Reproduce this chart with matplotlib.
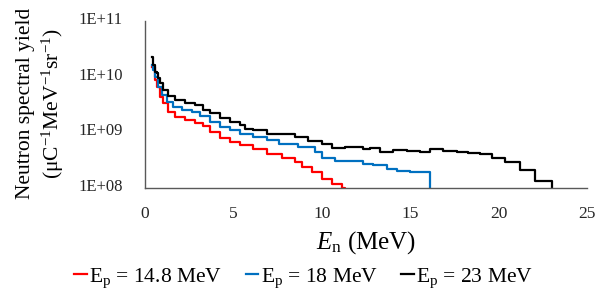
import numpy as np
import matplotlib
matplotlib.use("Agg")
import matplotlib.pyplot as plt
import matplotlib.transforms as mtransforms
from matplotlib.ticker import FixedLocator, FuncFormatter

# フォント設定 (Times 風)
plt.rcParams['font.family'] = ['Liberation Serif', 'DejaVu Serif']
plt.rcParams['mathtext.fontset'] = 'custom'
plt.rcParams['mathtext.rm'] = 'Liberation Serif'
plt.rcParams['mathtext.it'] = 'Liberation Serif:italic'

# データ
en_148 = [0.38, 0.57, 0.66, 0.85, 1.04, 1.32, 1.70, 2.26, 2.83, 3.30, 3.68, 4.24,
          4.81, 5.37, 6.13, 6.88, 7.73, 8.48, 8.86, 9.43, 9.99, 10.56, 11.12, 11.3]
y_148 = [1.51e10, 8.7e9, 6.6e9, 4.4e9, 3.3e9, 2.34e9, 1.91e9, 1.66e9, 1.48e9, 1.29e9,
         1.02e9, 7.9e8, 6.6e8, 5.9e8, 5.0e8, 4.0e8, 3.4e8, 2.95e8, 2.4e8, 1.95e8,
         1.48e8, 1.2e8, 1.02e8, 1e7]

en_18 = [0.38, 0.47, 0.57, 0.75, 0.94, 1.23, 1.60, 2.07, 2.64, 3.11, 3.68, 4.24, 4.81,
         5.37, 6.13, 6.88, 7.60, 8.67, 9.62, 9.99, 10.75, 11.6, 12.35, 12.91,
         13.67, 14.24, 14.99, 16.1]
y_18 = [1.62e10, 1.32e10, 1.0e10, 6.6e9, 4.7e9, 3.5e9, 2.9e9, 2.5e9, 2.34e9, 1.95e9,
        1.55e9, 1.26e9, 1.10e9, 9.5e8, 8.3e8, 7.2e8, 6.3e8, 5.5e8, 4.5e8,
        3.4e8, 3.1e8, 3.0e8, 2.75e8, 2.57e8, 2.19e8, 2.04e8, 1.95e8, 1e7]

en_23 = [0.38, 0.47, 0.57, 0.66, 0.75, 0.85, 1.04, 1.32, 1.70, 2.26, 2.83, 3.30, 3.68,
         4.24, 4.81, 5.37, 5.66, 6.13, 6.88, 7.92, 8.48, 9.24, 9.99, 10.56, 11.31,
         12.35, 12.73, 13.29, 14.04, 14.80, 15.55, 16.12, 16.87, 17.63, 18.29, 18.95,
         19.61, 20.36, 21.21, 22.06, 23.0]
y_23 = [2.29e10, 1.62e10, 1.23e10, 1.15e10, 9.3e9, 7.6e9, 5.75e9, 4.47e9, 3.8e9, 3.39e9,
        3.09e9, 2.51e9, 2.19e9, 1.78e9, 1.55e9, 1.35e9, 1.17e9, 1.10e9, 9.5e8, 9.3e8,
        8.1e8, 7.1e8, 6.2e8, 5.2e8, 5.4e8, 5.1e8, 5.2e8, 4.5e8, 4.9e8, 4.7e8, 4.5e8,
        5.0e8, 4.7e8, 4.5e8, 4.2e8, 4.1e8, 3.4e8, 2.9e8, 2.1e8, 1.35e8, 1e7]

labels = [r'E$_\mathrm{p}$ = 14.8 MeV', r'E$_\mathrm{p}$ = 18 MeV', r'E$_\mathrm{p}$ = 23 MeV']
colors = ['#FF0000', '#0070C0', '#000000']
x_ticks = [0, 5, 10, 15, 20, 25]
y_ticks = [1e8, 1e9, 1e10, 1e11]

fig = plt.figure(figsize=(6.07, 2.95), dpi=100)
ax = fig.add_axes([145 / 607, 1 - 188 / 295, 442 / 607, 167 / 295])

for xs, ys, c, lab in zip([en_148, en_18, en_23], [y_148, y_18, y_23], colors, labels):
    ax.plot(xs, ys, drawstyle='steps-post', color=c, lw=1.6, label=lab)

ax.set_yscale('log')
ax.set_xlim(0, 25)
ax.set_ylim(1e8, 1e11)
ax.xaxis.set_major_locator(FixedLocator(x_ticks))
ax.yaxis.set_major_locator(FixedLocator(y_ticks))
ax.yaxis.set_minor_locator(FixedLocator([]))
ax.yaxis.set_major_formatter(FuncFormatter(lambda v, p: f"1E+{int(round(np.log10(v))):02d}"))

for s in ['top', 'right']:
    ax.spines[s].set_visible(False)
for s in ['left', 'bottom']:
    ax.spines[s].set_color('#595959')
    ax.spines[s].set_linewidth(1.0)

ax.tick_params(axis='x', length=0, pad=13, labelsize=12.5, colors='#262626')
ax.tick_params(axis='y', which='both', length=0, pad=16, labelsize=12, colors='#262626')
# Excel 風にラベルを少し上にずらす
off = mtransforms.ScaledTranslation(0, 3 / 100, fig.dpi_scale_trans)
for t in ax.get_yticklabels():
    t.set_transform(t.get_transform() + off)

fig.text(366 / 607, 1 - 243 / 295, r'$E_\mathrm{n}$ (MeV)', ha='center', va='center', fontsize=18)
fig.text(41 / 607, 1 - 103 / 295,
         'Neutron spectral yield\n(μC$^{-1}$MeV$^{-1}$sr$^{-1}$)',
         rotation=90, ha='center', va='center', fontsize=15.5, linespacing=1.25)

fig.legend(loc='center', bbox_to_anchor=(0.5, 1 - 278 / 295), ncol=3, frameon=False,
           fontsize=15.5, handlelength=0.6, handletextpad=0.1, columnspacing=1.1)

fig.savefig('out.png', dpi=100)
